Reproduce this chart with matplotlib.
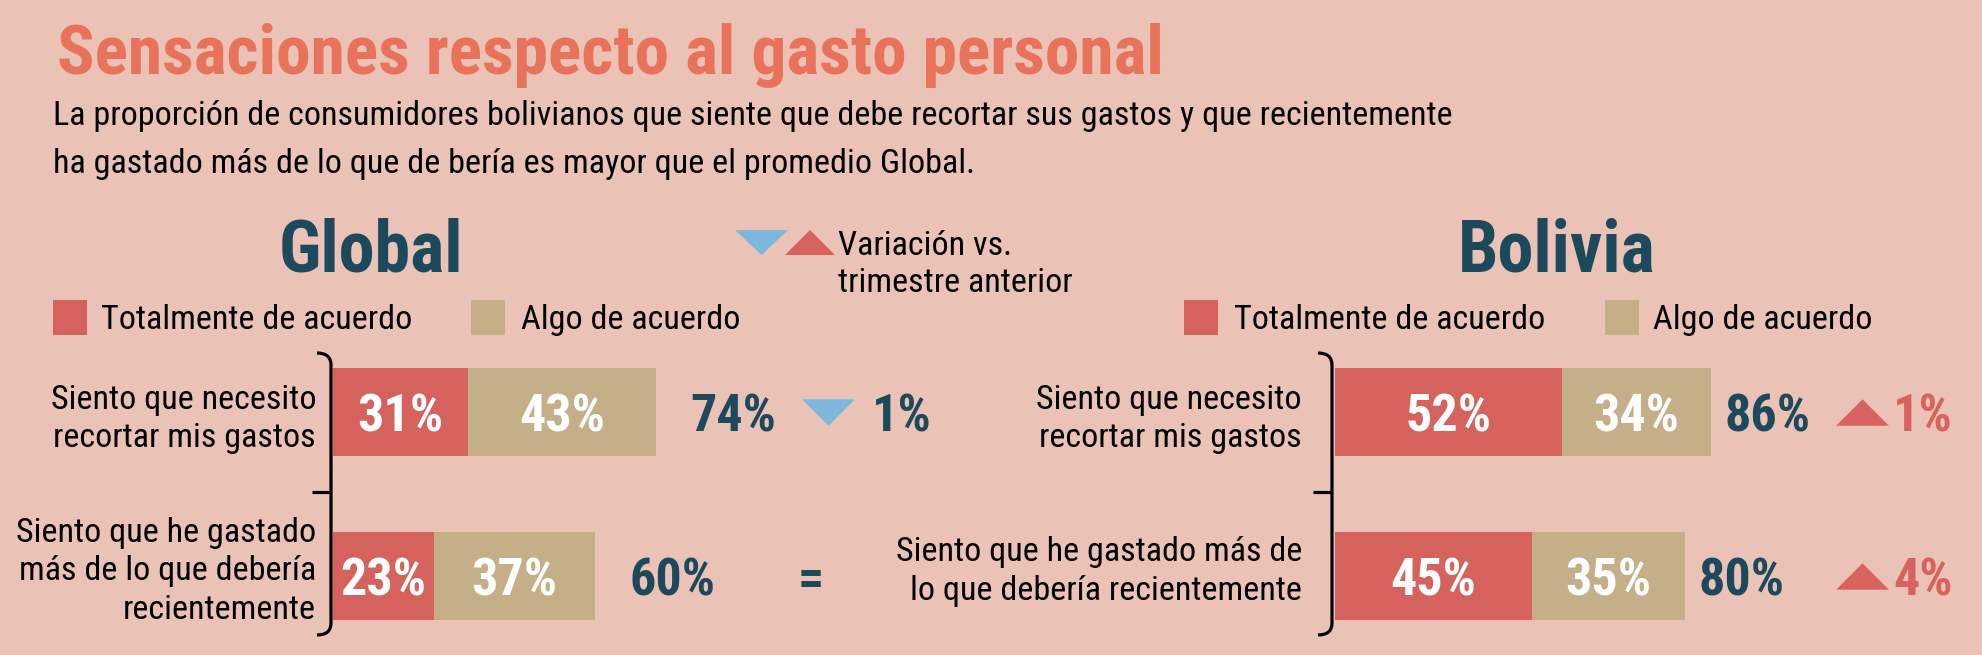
import matplotlib
matplotlib.use("Agg")
import matplotlib.pyplot as plt
from matplotlib import font_manager as fm
from matplotlib.path import Path
from matplotlib.patches import PathPatch, Rectangle, Polygon

# ---------------- data ----------------
title = "Sensaciones respecto al gasto personal"
subtitle_lines = [
    "La proporción de consumidores bolivianos que siente que debe recortar sus gastos y que recientemente",
    "ha gastado más de lo que de bería es mayor que el promedio Global.",
]
panel_titles = ["Global", "Bolivia"]
legend_labels = ["Totalmente de acuerdo", "Algo de acuerdo"]
variation_label = ["Variación vs.", "trimestre anterior"]

categories_global = [
    "Siento que necesito\nrecortar mis gastos",
    "Siento que he gastado\nmás de lo que debería\nrecientemente",
]
categories_bolivia = [
    "Siento que necesito\nrecortar mis gastos",
    "Siento que he gastado más de\nlo que debería recientemente",
]
global_total_agree = [31, 23]
global_some_agree = [43, 37]
global_change = [-1, 0]
bolivia_total_agree = [52, 45]
bolivia_some_agree = [34, 35]
bolivia_change = [1, 4]

# ---------------- style ----------------
W, H = 1982, 655
BG = "#EBC2B6"
RED = "#D5625D"
TAN = "#C4AF88"
TEAL = "#1C4A5C"
BLUE = "#7DB7DE"
TITLE_C = "#E8735A"
UP_RED = "#D8625D"

avail = {f.name for f in fm.fontManager.ttflist}
NARROW = None
for cand in ["Roboto Condensed", "Liberation Sans Narrow", "Open Sans Condensed",
             "DejaVu Sans Condensed", "Liberation Sans"]:
    if cand in avail:
        NARROW = cand
        break
if NARROW is None:
    NARROW = "DejaVu Sans"
FAM = [NARROW, "DejaVu Sans"]

BODY = 24.6
BIG = 37.5
HEAD = 52

fig = plt.figure(figsize=(W / 100, H / 100), dpi=100, facecolor=BG)
ov = fig.add_axes([0, 0, 1, 1])
ov.set_xlim(0, W)
ov.set_ylim(H, 0)
ov.axis("off")
ov.set_zorder(0)


def T(x, y, s, size, color="black", weight="normal", ha="left", va="baseline"):
    ov.text(x, y, s, fontsize=size, color=color, fontweight=weight, ha=ha, va=va,
            family=FAM)


# title & subtitle
T(57, 74, title, 50, TITLE_C, "bold")
T(53, 125, subtitle_lines[0], BODY)
T(53, 173, subtitle_lines[1], BODY)

# panel headings
T(371, 272, panel_titles[0], HEAD, TEAL, "bold", ha="center")
T(1557, 272, panel_titles[1], HEAD, TEAL, "bold", ha="center")

# legends
for (rx, tx, tanx, tantx) in [(53, 101, 471, 521), (1184, 1234, 1605, 1653)]:
    ov.add_patch(Rectangle((rx, 300), 34, 35, color=RED, lw=0))
    T(tx, 329, legend_labels[0], BODY)
    ov.add_patch(Rectangle((tanx, 300), 34, 35, color=TAN, lw=0))
    T(tantx, 329, legend_labels[1], BODY)

# variation legend
ov.add_patch(Polygon([(735, 230), (788, 230), (761.5, 255)], closed=True, color=BLUE, lw=0))
ov.add_patch(Polygon([(785, 255), (835, 255), (810, 230)], closed=True, color=UP_RED, lw=0))
T(838, 255, variation_label[0], BODY)
T(838, 292, variation_label[1], BODY)


# brackets
def bracket(x, top, bottom, mid, hook=14, tick=19):
    verts = [(x - hook, top), (x, top), (x, top + 12), (x, bottom - 12), (x, bottom),
             (x - hook, bottom)]
    codes = [Path.MOVETO, Path.CURVE3, Path.CURVE3, Path.LINETO, Path.CURVE3, Path.CURVE3]
    ov.add_patch(PathPatch(Path(verts, codes), fill=False, lw=2.3, ec="black",
                           capstyle="butt"))
    ov.plot([x - tick, x], [mid, mid], color="black", lw=2.3, solid_capstyle="butt")


bracket(331, 353, 635, 492)
bracket(1332, 353, 635, 492)

# ---------------- bar panels ----------------
PX_PER_PCT = 4.37
ROW_PX = [412, 576]
ROW_STEP = ROW_PX[1] - ROW_PX[0]
AX_TOP, AX_BOT = 340, 650
BAR_H = 88 / ROW_STEP
CAP_HALF = 19 / ROW_STEP
LABEL_SHIFT = [0.0, -0.07]


def panel(left_px, cats, tot, some, change, total_gap, tri_x, txt_x, eq_x, pad_pt):
    right_px = W if left_px > 1000 else 980
    xmax = (right_px - left_px) / PX_PER_PCT
    ax = fig.add_axes([left_px / W, 1 - AX_BOT / H, (right_px - left_px) / W,
                       (AX_BOT - AX_TOP) / H])
    ax.set_zorder(1)
    ax.patch.set_alpha(0)
    y = list(range(len(cats)))
    ax.set_xlim(0, xmax)
    y_top = -(ROW_PX[0] - AX_TOP) / ROW_STEP
    y_bot = (len(cats) - 1) + (AX_BOT - ROW_PX[-1]) / ROW_STEP
    ax.set_ylim(y_bot, y_top)
    ax.barh(y, tot, height=BAR_H, color=RED, lw=0)
    ax.barh(y, some, left=tot, height=BAR_H, color=TAN, lw=0)
    for s in ax.spines.values():
        s.set_visible(False)
    ax.set_xticks([])
    ax.set_yticks([yy + LABEL_SHIFT[k] for k, yy in enumerate(y)])
    ax.set_yticklabels(cats, fontsize=BODY, family=FAM, linespacing=1.27)
    ax.tick_params(axis="y", length=0, pad=pad_pt)
    up_path = Path([(-1, -0.5), (1, -0.5), (0, 0.5), (-1, -0.5)],
                   [Path.MOVETO, Path.LINETO, Path.LINETO, Path.CLOSEPOLY])
    dn_path = Path([(-1, 0.5), (1, 0.5), (0, -0.5), (-1, 0.5)],
                   [Path.MOVETO, Path.LINETO, Path.LINETO, Path.CLOSEPOLY])
    for i in y:
        yb = i + CAP_HALF
        ax.text(tot[i] / 2, yb, f"{tot[i]}%", color="white", fontsize=BIG,
                fontweight="bold", ha="center", va="baseline", family=FAM)
        ax.text(tot[i] + some[i] / 2, yb, f"{some[i]}%", color="white", fontsize=BIG,
                fontweight="bold", ha="center", va="baseline", family=FAM)
        total = tot[i] + some[i]
        ax.text(total + total_gap, yb, f"{total}%", color=TEAL, fontsize=BIG,
                fontweight="bold", ha="left", va="baseline", family=FAM, clip_on=False)
        c = change[i]
        if c == 0:
            ax.text(eq_x, yb, "=", color=TEAL, fontsize=BIG, fontweight="bold",
                    ha="center", va="baseline", family=FAM)
        else:
            mk = up_path if c > 0 else dn_path
            col = UP_RED if c > 0 else BLUE
            tcol = UP_RED if c > 0 else TEAL
            ax.scatter([tri_x], [i], marker=mk, s=38 ** 2, color=col, lw=0)
            ax.text(txt_x, yb, f"{abs(c)}%", color=tcol, fontsize=BIG,
                    fontweight="bold", ha="left", va="baseline", family=FAM)
    return ax


panel(333, categories_global, global_total_agree, global_some_agree, global_change,
      7.8, 113.3, 123.3, 109.4, 12.2)
panel(1335, categories_bolivia, bolivia_total_agree, bolivia_some_agree, bolivia_change,
      3.2, 120.6, 127.7, 120.6, 23.8)

fig.savefig("out.png", dpi=100, facecolor=BG)
